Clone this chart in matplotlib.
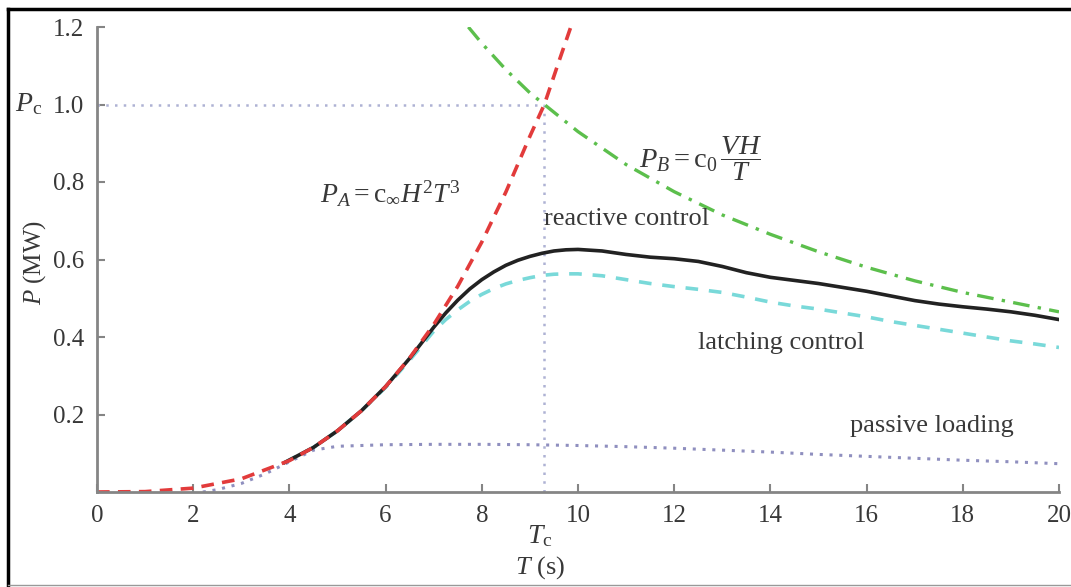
import numpy as np
import matplotlib.pyplot as plt
from matplotlib.lines import Line2D

plt.rcParams['font.family'] = ['Liberation Serif', 'DejaVu Serif']
plt.rcParams['mathtext.fontset'] = 'custom'
plt.rcParams['mathtext.rm'] = 'Liberation Serif'
plt.rcParams['mathtext.it'] = 'Liberation Serif:italic'
plt.rcParams['mathtext.bf'] = 'Liberation Serif:bold'

# --- datos ---
Tc = 9.3
Pc = 1.0

# P_A (cubica, roja discontinua)
T_a = [0, 1, 2, 3, 4, 4.5, 5, 5.5, 6, 6.5, 7, 7.5, 8, 8.5, 9, 9.3, 9.6, 9.85]
P_a = [0, 0.001, 0.010, 0.034, 0.081, 0.115, 0.158, 0.210, 0.272, 0.346,
       0.432, 0.531, 0.645, 0.774, 0.918, 1.0, 1.11, 1.2]

# P_B (1/T, verde punto-raya)
T_b = [7.72, 8, 8.5, 9, 9.3, 10, 11, 12, 13, 14, 15, 16, 17, 18, 19, 20]
P_b = [1.2, 1.158, 1.09, 1.03, 1.0, 0.93, 0.845, 0.775, 0.715, 0.665,
       0.62, 0.58, 0.545, 0.515, 0.49, 0.465]

# control reactivo (negra)
T_r = [3.9, 4.5, 5, 5.5, 6, 6.5, 7, 7.25, 7.5, 7.75, 8, 8.25, 8.5, 8.75, 9,
       9.25, 9.5, 9.75, 10, 10.5, 11, 11.5, 12, 12.5, 13, 13.5, 14, 14.5, 15,
       15.5, 16, 16.5, 17, 17.5, 18, 18.5, 19, 19.5, 20]
P_r = [0.076, 0.115, 0.158, 0.21, 0.272, 0.345, 0.425, 0.462, 0.495, 0.524,
       0.548, 0.568, 0.585, 0.598, 0.608, 0.616, 0.622, 0.625, 0.626, 0.622,
       0.613, 0.606, 0.602, 0.595, 0.582, 0.566, 0.554, 0.546, 0.538, 0.528,
       0.518, 0.506, 0.494, 0.485, 0.478, 0.472, 0.465, 0.456, 0.445]

# control por enclavamiento (cian)
T_l = [3.9, 4.5, 5, 5.5, 6, 6.5, 7, 7.25, 7.5, 7.75, 8, 8.25, 8.5, 8.75, 9,
       9.25, 9.5, 9.75, 10, 10.5, 11, 11.5, 12, 12.5, 13, 13.5, 14, 14.5, 15,
       15.5, 16, 16.5, 17, 17.5, 18, 18.5, 19, 19.5, 20]
P_l = [0.076, 0.115, 0.158, 0.21, 0.27, 0.34, 0.415, 0.445, 0.47, 0.492,
       0.51, 0.525, 0.537, 0.546, 0.553, 0.559, 0.562, 0.563, 0.563, 0.558,
       0.548, 0.538, 0.53, 0.523, 0.515, 0.503, 0.49, 0.48, 0.472, 0.462,
       0.452, 0.44, 0.43, 0.42, 0.41, 0.40, 0.39, 0.382, 0.373]

# carga pasiva (punteada)
T_p = [2.2, 2.5, 3, 3.5, 4, 4.5, 5, 6, 7, 8, 9, 10, 11, 12, 13, 14, 15, 16,
       17, 18, 19, 20]
P_p = [0.0, 0.006, 0.022, 0.047, 0.078, 0.108, 0.118, 0.122, 0.123, 0.123,
       0.122, 0.12, 0.117, 0.113, 0.108, 0.103, 0.097, 0.092, 0.087, 0.082,
       0.078, 0.073]

x_ticks = [0, 2, 4, 6, 8, 10, 12, 14, 16, 18, 20]
y_ticks = [0.2, 0.4, 0.6, 0.8, 1.0, 1.2]

txt = '#383838'
gris = '#858585'

fig = plt.figure(figsize=(10.71, 5.87), dpi=100)
ax = fig.add_axes([97/1071, 1 - 492/587, (1059 - 97)/1071, (492 - 27)/587])

# lineas de referencia Pc / Tc
ax.plot([0, Tc], [Pc, Pc], ls=(0, (1, 2.5)), color='#aeb2d4', lw=1.8)
ax.plot([Tc, Tc], [0, Pc], ls=(0, (1, 2.5)), color='#aeb2d4', lw=1.8)

ax.plot(T_p, P_p, ls=(0, (1, 2.2)), color='#8f8fbf', lw=2.2)
ax.plot(T_b, P_b, ls=(0, (5, 2.5, 1, 2.5)), color='#5cbf4c', lw=2.4)
ax.plot(T_l, P_l, ls=(0, (3.5, 3)), color='#79d9d9', lw=2.6)
ax.plot(T_r, P_r, '-', color='#222222', lw=2.6)
ax.plot(T_a, P_a, ls=(0, (3.5, 2.3)), color='#e23b3b', lw=2.6)

ax.set_xlim(0, 20)
ax.set_ylim(0, 1.2)
ax.set_xticks(x_ticks)
ax.set_yticks(y_ticks)
ax.set_xticklabels([str(v) for v in x_ticks])
ax.set_yticklabels([f'{v:.1f}' for v in y_ticks])

for s in ['top', 'right']:
    ax.spines[s].set_visible(False)
for s in ['left', 'bottom']:
    ax.spines[s].set_color(gris)
    ax.spines[s].set_linewidth(2)
ax.tick_params(direction='in', length=6, width=1.5, color=gris,
               labelsize=18, labelcolor=txt, pad=9)

# etiquetas
ax.text(6.1, 0.77, r'$P_A = \mathrm{c}_\infty H^2 T^3$', fontsize=20,
        color=txt, ha='center', va='center')
ax.text(12.55, 0.86, r'$P_B = \mathrm{c}_0\,\dfrac{VH}{T}$', fontsize=20.5,
        color=txt, ha='center', va='center')
ax.text(9.3, 0.705, 'reactive control', fontsize=19, color=txt,
        ha='left', va='center')
ax.text(12.5, 0.385, 'latching control', fontsize=19, color=txt,
        ha='left', va='center')
ax.text(15.65, 0.17, 'passive loading', fontsize=19, color=txt,
        ha='left', va='center')

ax.text(-1.42, 1.0, r'$P_\mathrm{c}$', fontsize=20, color=txt,
        ha='center', va='center', clip_on=False)
ax.text(9.2, -0.115, r'$T_\mathrm{c}$', fontsize=20, color=txt,
        ha='center', va='center', clip_on=False)

fig.text(35/1071, 1 - 262/587, r'$P$ (MW)', fontsize=18, color=txt,
         rotation=90, ha='center', va='center')
fig.text(540/1071, 1 - 568/587, r'$T$ (s)', fontsize=19, color=txt,
         ha='center', va='center')

# marco de la imagen
fig.add_artist(Line2D([8/1071, 1], [1 - 9/587, 1 - 9/587], color='black', lw=2.5))
fig.add_artist(Line2D([8/1071, 8/1071], [0, 1 - 9/587], color='black', lw=2.5))
fig.add_artist(Line2D([8/1071, 1], [2/587, 2/587], color='#999999', lw=1))

fig.savefig('out.png', dpi=100)
